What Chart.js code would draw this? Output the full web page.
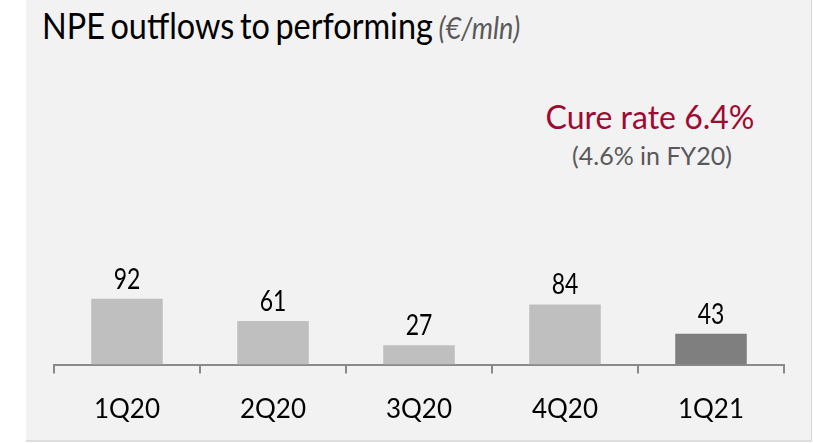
<!DOCTYPE html>
<html>
<head>
<meta charset="utf-8">
<script src="https://cdn.jsdelivr.net/npm/chart.js@4"></script>
<style>
  html, body { margin: 0; padding: 0; background: #ffffff; }
  body { width: 813px; height: 443px; position: relative; overflow: hidden; font-family: Lato, sans-serif; }
  #panel { position: absolute; left: 26px; top: 0; width: 785px; height: 440px; background: #f2f2f2;
           border-right: 1px solid #d6d6d6; border-bottom: 2px solid #dedede; }
  #chartWrap { position: absolute; left: 0; top: 0; width: 813px; height: 443px; }
  .title { position: absolute; left: 42px; top: 7px; font-size: 36px; line-height: 36px; color: #000;
           white-space: nowrap; transform: scaleX(0.9); transform-origin: left top; word-spacing: -3px; }
  .title .unit { font-style: italic; font-size: 30px; color: #595959; word-spacing: 0; }
  .cure { position: absolute; left: 500px; width: 300px; text-align: center; white-space: nowrap; }
  .cure.main { top: 101px; font-size: 32px; line-height: 32px; color: #9e0a31; }
  .cure.sub { top: 143px; font-size: 25px; line-height: 25px; color: #595959; left: 502px; }
</style>
</head>
<body>
<div id="panel"></div>
<div class="title">NPE outflows to performing <span class="unit">(€/mln)</span></div>
<div class="cure main">Cure rate 6.4%</div>
<div class="cure sub">(4.6% in FY20)</div>
<div id="chartWrap"><canvas id="myChart" width="813" height="443"></canvas></div>
<script>
// data
const quarters = ["1Q20", "2Q20", "3Q20", "4Q20", "1Q21"];
const outflows = [92, 61, 27, 84, 43];

const lightBar = "#bfbfbf";
const darkBar = "#7f7f7f";
const axisGray = "#8a8a8a";

// value labels above the bars
const valueLabels = {
    id: "valueLabels",
    afterDatasetsDraw(chart) {
        const ctx = chart.ctx;
        const meta = chart.getDatasetMeta(0);
        ctx.save();
        ctx.fillStyle = "#000";
        ctx.font = "28px Lato";
        ctx.textAlign = "center";
        ctx.textBaseline = "alphabetic";
        meta.data.forEach(function (bar, i) {
            ctx.save();
            ctx.translate(bar.x, bar.y - 10);
            ctx.scale(0.82, 1);
            ctx.fillText(String(outflows[i]), 0, 0);
            ctx.restore();
        });
        ctx.restore();
    }
};

document.addEventListener("DOMContentLoaded", function () {
    const ctx = document.getElementById("myChart").getContext("2d");
    new Chart(ctx, {
        type: "bar",
        data: {
            labels: quarters,
            datasets: [
                {
                    label: "NPE outflows to performing",
                    data: outflows,
                    backgroundColor: function (c) {
                        return c.dataIndex === outflows.length - 1 ? darkBar : lightBar;
                    },
                    borderWidth: 0,
                    barPercentage: 0.49,
                    categoryPercentage: 1.0,
                },
            ],
        },
        options: {
            responsive: false,
            animation: false,
            layout: {
                padding: { left: 54, right: 29, top: 293, bottom: 7 },
            },
            scales: {
                x: {
                    offset: true,
                    grid: {
                        offset: true,
                        drawOnChartArea: false,
                        drawTicks: true,
                        tickLength: 9,
                        color: axisGray,
                        lineWidth: 2,
                    },
                    border: {
                        display: true,
                        color: axisGray,
                        width: 2,
                    },
                    ticks: {
                        color: "#000",
                        padding: 21,
                        font: { family: "Lato", size: 26 },
                    },
                },
                y: {
                    display: false,
                    min: 0,
                    max: 100,
                },
            },
            plugins: {
                legend: { display: false },
                tooltip: { enabled: false },
            },
        },
        plugins: [valueLabels],
    });
});
</script>
</body>
</html>
